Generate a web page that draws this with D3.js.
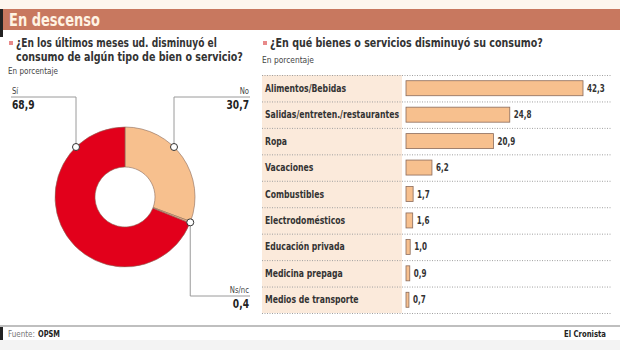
<!DOCTYPE html>
<meta charset="utf-8">
<script src="https://d3js.org/d3.v7.min.js"></script>
<style>
  body { margin: 0; background: #fff; }
  text { font-family: "DejaVu Sans Condensed", "Liberation Sans Narrow", sans-serif; }
</style>
<div id="chart"></div>
<script>

// donut data
var pieLabels = ["No", "Ns/nc", "Sí"];
var pieValues = [30.7, 0.4, 68.9];
var pieText = ["30,7", "0,4", "68,9"];

// bar data
var categories = ["Alimentos/Bebidas", "Salidas/entreten./restaurantes", "Ropa", "Vacaciones",
  "Combustibles", "Electrodomésticos", "Educación privada", "Medicina prepaga", "Medios de transporte"];
var barValues = [42.3, 24.8, 20.9, 6.2, 1.7, 1.6, 1.0, 0.9, 0.7];
var barText = ["42,3", "24,8", "20,9", "6,2", "1,7", "1,6", "1,0", "0,9", "0,7"];

var width = 620, height = 350;

var svg = d3.select("#chart").append("svg")
  .attr("width", width)
  .attr("height", height);

// the paper's font is a narrow one, squeeze ours horizontally to look like it
function scaleX(node, k) {
  var sel = d3.select(node);
  var tx = +sel.attr("x"), ty = +sel.attr("y");
  sel.attr("x", 0).attr("y", 0)
    .attr("transform", "translate(" + tx + "," + ty + ") scale(" + k + ",1)");
}
function squeeze(sel, k) {
  sel.each(function() { scaleX(this, k); });
  return sel;
}
function fitTo(sel, w) {
  sel.each(function() { scaleX(this, w / this.getComputedTextLength()); });
  return sel;
}

// header
svg.append("rect").attr("x", 0).attr("y", 0).attr("width", width).attr("height", 9).attr("fill", "#fdf6ee");
svg.append("rect").attr("x", 0).attr("y", 9).attr("width", width).attr("height", 21).attr("fill", "#c8785f");
svg.append("rect").attr("x", 0).attr("y", 9).attr("width", 3).attr("height", 28).attr("fill", "#222");
fitTo(svg.append("text").attr("x", 9).attr("y", 26)
  .attr("font-size", 18).attr("font-weight", "bold").attr("fill", "#fff3e3")
  .text("En descenso"), 91);

// question titles
function bullet(x, y) {
  svg.append("rect").attr("x", x).attr("y", y).attr("width", 4).attr("height", 4).attr("fill", "#e88a8a");
}
bullet(9, 41);
fitTo(svg.append("text").attr("x", 16).attr("y", 47).attr("font-size", 12.5).attr("font-weight", "bold").attr("fill", "#333")
  .text("¿En los últimos meses ud. disminuyó el"), 201);
fitTo(svg.append("text").attr("x", 16).attr("y", 61).attr("font-size", 12.5).attr("font-weight", "bold").attr("fill", "#333")
  .text("consumo de algún tipo de bien o servicio?"), 227);
fitTo(svg.append("text").attr("x", 8).attr("y", 74).attr("font-size", 9).attr("fill", "#444")
  .text("En porcentaje"), 50);

bullet(263, 41);
fitTo(svg.append("text").attr("x", 270).attr("y", 47).attr("font-size", 12.5).attr("font-weight", "bold").attr("fill", "#333")
  .text("¿En qué bienes o servicios disminuyó su consumo?"), 273);
fitTo(svg.append("text").attr("x", 262).attr("y", 63).attr("font-size", 9).attr("fill", "#444")
  .text("En porcentaje"), 52);

// donut
var cx = 125, cy = 197, rOut = 70, rIn = 30;
var pie = d3.pie().sort(null)(pieValues);
var arc = d3.arc().innerRadius(rIn).outerRadius(rOut);
var pieColors = ["#f7c08e", "#f3b98a", "#e2001b"];

var g = svg.append("g").attr("transform", "translate(" + cx + "," + cy + ")");
g.selectAll("path").data(pie).enter().append("path")
  .attr("d", arc)
  .attr("fill", function(d, i) { return pieColors[i]; })
  .attr("stroke", "#8a6a5a")
  .attr("stroke-width", 0.6);

// leader lines and labels
var leaders = [
  { i: 0, dx: 49, ly: 97, ex: 250, anchor: "end" },
  { i: 1, dx: null, ly: 296, ex: 250, anchor: "end" },
  { i: 2, dx: -49, ly: 97, ex: 11, anchor: "start" }
];
leaders.forEach(function(l) {
  var px, py;
  if (l.dx === null) {
    var a = (pie[l.i].startAngle + pie[l.i].endAngle) / 2;
    px = cx + Math.sin(a) * rOut;
    py = cy - Math.cos(a) * rOut;
  } else {
    px = cx + l.dx;
    py = cy - Math.sqrt(rOut * rOut - l.dx * l.dx);
  }
  svg.append("path")
    .attr("d", "M" + px + "," + py + "V" + l.ly + "H" + l.ex)
    .attr("fill", "none").attr("stroke", "#9a9a9a").attr("stroke-width", 1);
  svg.append("circle").attr("cx", px).attr("cy", py).attr("r", 3.5)
    .attr("fill", "#fff").attr("stroke", "#333").attr("stroke-width", 1);
  var tx = l.anchor === "end" ? l.ex - 1 : l.ex + 1;
  squeeze(svg.append("text").attr("x", tx).attr("y", l.ly - 3).attr("text-anchor", l.anchor)
    .attr("font-size", 9).attr("fill", "#444").text(pieLabels[l.i]), 0.85);
  squeeze(svg.append("text").attr("x", tx).attr("y", l.ly + 12).attr("text-anchor", l.anchor)
    .attr("font-size", 13).attr("font-weight", "bold").attr("fill", "#222").text(pieText[l.i]), 0.78);
});

// bars
var x = d3.scaleLinear().domain([0, 42.3]).range([406, 583]);
var y = d3.scaleBand().domain(categories).range([75, 313]);
var barH = 15;

svg.append("rect").attr("x", 262).attr("y", 75).attr("width", 140).attr("height", 238).attr("fill", "#fbeadb");

svg.selectAll(".grid").data(categories.concat(["_end"])).enter().append("line")
  .attr("x1", 262).attr("x2", 611)
  .attr("y1", function(d, i) { return 75 + i * y.bandwidth() + 0.5; })
  .attr("y2", function(d, i) { return 75 + i * y.bandwidth() + 0.5; })
  .attr("stroke", "#a0a0a0").attr("stroke-width", 1).attr("stroke-dasharray", "1,1.5");

squeeze(svg.selectAll(".lab").data(categories).enter().append("text")
  .attr("x", 265)
  .attr("y", function(d) { return y(d) + y.bandwidth() / 2 + 3.5; })
  .attr("font-size", 10).attr("font-weight", "bold").attr("fill", "#333")
  .text(function(d) { return d; }), 0.86);

svg.selectAll(".bar").data(barValues).enter().append("rect")
  .attr("x", x(0))
  .attr("y", function(d, i) { return y(categories[i]) + (y.bandwidth() - barH) / 2; })
  .attr("width", function(d) { return x(d) - x(0); })
  .attr("height", barH)
  .attr("fill", "#f7c08e").attr("stroke", "#8a6a5a").attr("stroke-width", 0.8);

squeeze(svg.selectAll(".val").data(barValues).enter().append("text")
  .attr("x", function(d) { return x(d) + 4; })
  .attr("y", function(d, i) { return y(categories[i]) + y.bandwidth() / 2 + 3.5; })
  .attr("font-size", 10).attr("font-weight", "bold").attr("fill", "#333")
  .text(function(d, i) { return barText[i]; }), 0.8);

// footer
svg.append("line").attr("x1", 0).attr("x2", width).attr("y1", 326).attr("y2", 326)
  .attr("stroke", "#aaa").attr("stroke-width", 1.5);
svg.append("rect").attr("x", 0).attr("y", 327).attr("width", 3).attr("height", 13).attr("fill", "#222");
svg.append("rect").attr("x", 0).attr("y", 340).attr("width", width).attr("height", 10).attr("fill", "#f3f3f3");
fitTo(svg.append("text").attr("x", 8).attr("y", 337).attr("font-size", 9).attr("fill", "#777")
  .text("Fuente:"), 27);
fitTo(svg.append("text").attr("x", 38).attr("y", 337).attr("font-size", 9).attr("font-weight", "bold").attr("fill", "#222")
  .text("OPSM"), 22);
squeeze(svg.append("text").attr("x", 606).attr("y", 337).attr("text-anchor", "end")
  .attr("font-size", 9).attr("font-weight", "bold").attr("fill", "#222").text("El Cronista"), 0.85);

</script>
